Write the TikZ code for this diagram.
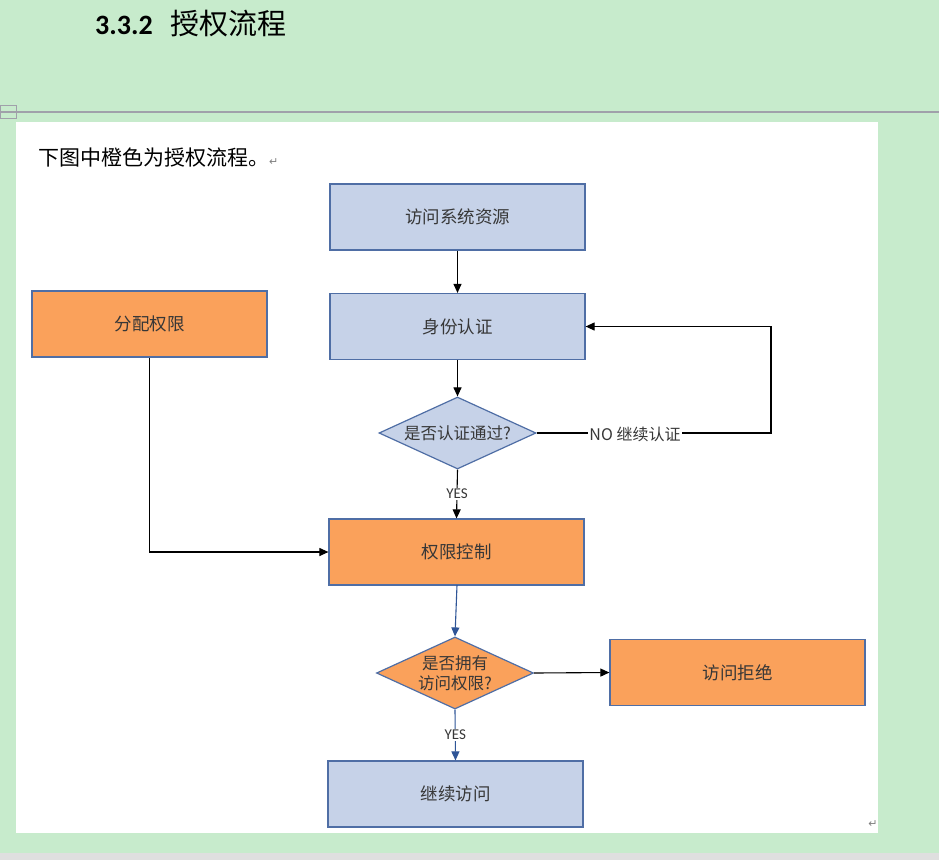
\documentclass[tikz,border=0pt]{standalone}
\usepackage{fontspec}
\usetikzlibrary{arrows.meta,shapes.geometric}
\newfontfamily\cjk{Noto Sans CJK SC}
\newfontfamily\latin{Carlito}
\newfontfamily\sym{DejaVu Sans}
\definecolor{bgreen}{RGB}{199,235,204}
\definecolor{bluefill}{RGB}{198,210,232}
\definecolor{orangefill}{RGB}{250,161,91}
\definecolor{boxline}{RGB}{79,110,165}
\definecolor{bluearrow}{RGB}{47,85,151}
\definecolor{txt}{RGB}{55,55,55}
\tikzset{
  box/.style={draw=boxline, line width=1.2pt, minimum width=255pt, minimum height=66pt, inner sep=0pt, font=\cjk\fontsize{17.5}{19}\selectfont, text=txt},
  bluebox/.style={box, fill=bluefill},
  orangebox/.style={box, fill=orangefill},
  dia/.style={draw=boxline, line width=1.2pt, shape=diamond, minimum width=157pt, minimum height=72pt, inner sep=0pt, aspect=2.18},
  dtext/.style={font=\cjk\fontsize{16.5}{20}\selectfont, text=txt, align=center, inner sep=0pt},
  arr/.style={line width=1.1pt, -{Triangle[length=9pt,width=8pt]}},
  lbl/.style={fill=white, inner sep=1pt, text=txt}
}
\begin{document}
\begin{tikzpicture}[x=1pt,y=-1pt]
\useasboundingbox (0,0) rectangle (939,860);
\fill[bgreen] (0,0) rectangle (939,860);
\fill[gray!25] (0,853) rectangle (939,860);
\draw[color={rgb,255:red,160;green,160;blue,170}, line width=2pt] (0,112) -- (939,112);
\draw[color={rgb,255:red,160;green,160;blue,170}, line width=0.8pt] (0,105) rectangle (16,118);
\fill[white] (16,122) rectangle (878,833);

\node[anchor=west, inner sep=0pt] (title) at (95,24) {{\latin\bfseries\fontsize{28}{30}\selectfont 3.3.2}\hspace{18pt}{\cjk\fontsize{29}{31}\selectfont 授权流程}};
\node[anchor=west, inner sep=0pt] (intro) at (38,158) {{\cjk\fontsize{21}{23}\selectfont 下图中橙色为授权流程。}{\sym\fontsize{11}{12}\selectfont\color{gray}↵}};
\node[inner sep=0pt] (ret) at (873,824) {\sym\fontsize{11}{12}\selectfont\color{gray}↵};

\node[bluebox] (access) at (457.5,217) {访问系统资源};
\node[bluebox] (auth) at (457.5,326.5) {身份认证};
\node[orangebox, minimum width=235pt] (assign) at (149.5,324) {分配权限};
\node[dia, fill=bluefill] (d1) at (457.5,433) {};
\node[dtext] (d1t) at (d1.center) {是否认证通过?};
\node[orangebox] (ctrl) at (456.5,552) {权限控制};
\node[dia, fill=orangefill] (d2) at (455,673) {};
\node[dtext] (d2t) at (d2.center) {是否拥有\\访问权限?};
\node[orangebox] (deny) at (737.5,672.5) {访问拒绝};
\node[bluebox] (cont) at (455.5,794) {继续访问};

\coordinate (nr) at (771,433);
\coordinate (nt) at (771,326.5);
\coordinate (ab) at (149.5,552);

\draw[arr] (access) -- (auth);
\draw[arr] (auth) -- (d1);
\draw[arr] (d1.east) -- (nr) -- (nt) -- (auth.east);
\node[lbl, font=\cjk\fontsize{16}{18}\selectfont] (nolbl) at (635,434) {NO 继续认证};
\draw[arr] (d1.south) -- (ctrl.north) node[lbl, midway, font=\latin\fontsize{15}{17}\selectfont] (yes1) {YES};
\draw[arr] (assign.south) -- (ab) -- (ctrl.west);
\draw[arr, color=bluearrow] (457,585) -- (d2.north);
\draw[arr] (d2.east) -- (deny.west);
\draw[arr, color=bluearrow] (d2.south) -- (cont.north) node[lbl, midway, font=\latin\fontsize{15}{17}\selectfont, text=txt] (yes2) {YES};
\end{tikzpicture}
\end{document}
